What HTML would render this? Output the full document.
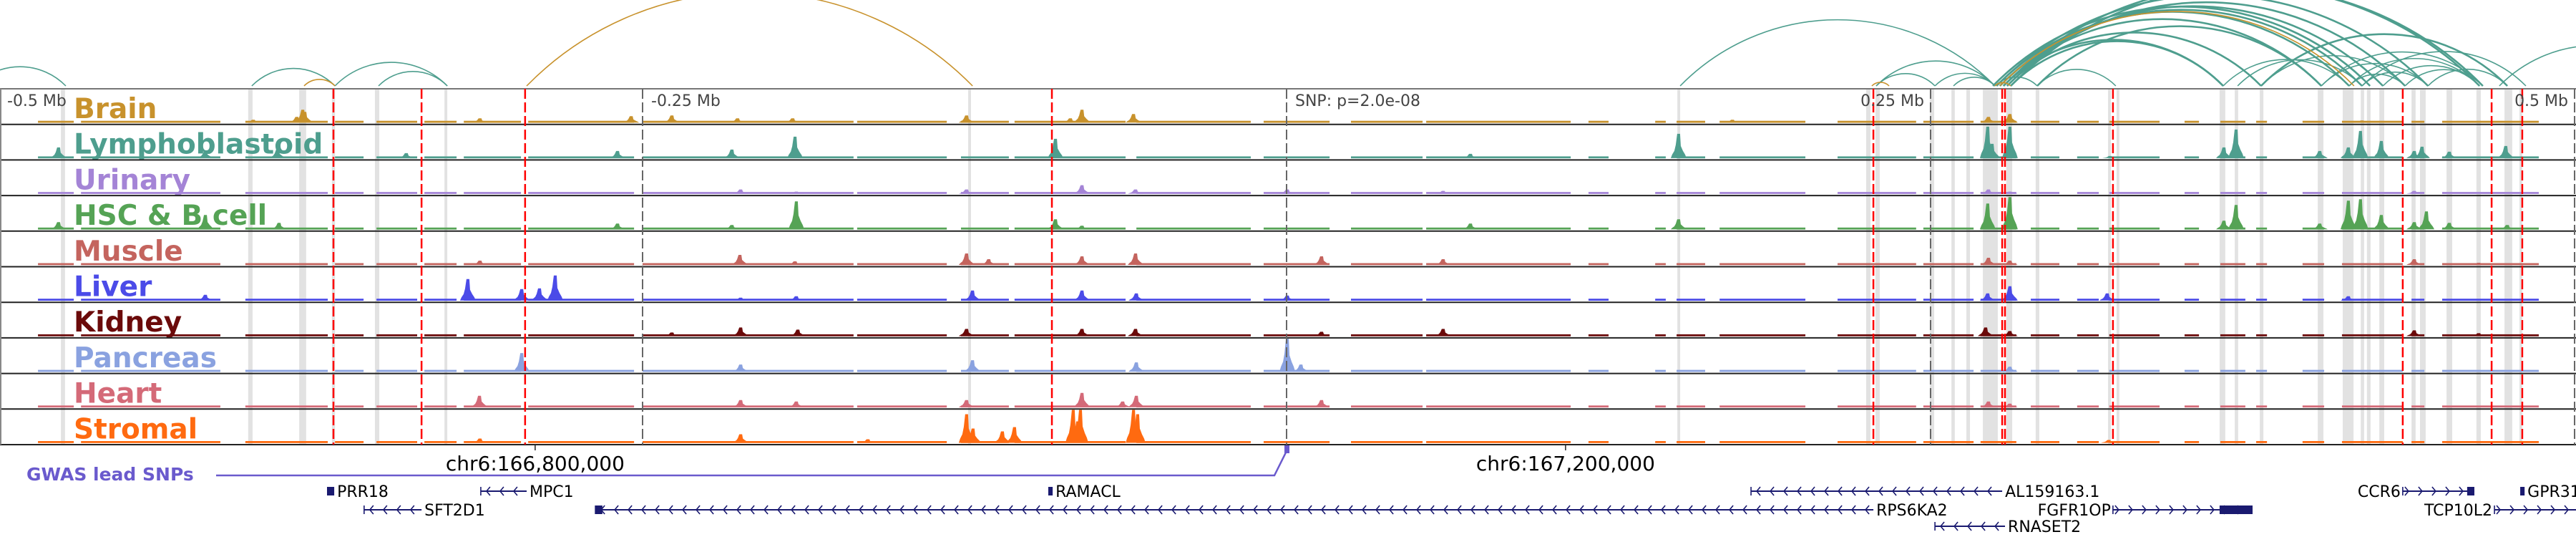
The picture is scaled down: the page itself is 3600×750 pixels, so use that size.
<!DOCTYPE html>
<html><head><meta charset="utf-8"><style>
html,body{margin:0;padding:0;background:#fff;width:3600px;height:750px;overflow:hidden}
svg{display:block;font-family:"DejaVu Sans","Liberation Sans",sans-serif}
</style></head><body>
<svg id="chart" width="3600" height="750" viewBox="0 0 3600 750" xmlns="http://www.w3.org/2000/svg">
<defs><clipPath id="arcclip"><rect x="0" y="0" width="3600" height="121"/></clipPath></defs>
</svg>
<script>
// ---- data (positions in kb relative to lead SNP) ----
const trackNames = ["Brain","Lymphoblastoid","Urinary","HSC & B cell","Muscle","Liver","Kidney","Pancreas","Heart","Stromal"];
const trackColors = ["#c8922c","#4e9e8e","#a484d6","#55a355","#c4645e","#4b4be8","#6b0a0a","#8aa2e0","#d46a78","#ff6a10"];
const brainPeaks = [[-419.7,2],[-401.1,4],[-384.2,8],[-381.9,18],[-381.1,15],[-313.1,6],[-254.4,9],[-238.6,10],[-213.1,6],[-191.7,6],[-124.2,10],[-83.9,6],[-79.4,18],[-59.4,12],[173.1,4],[272.5,8],[280.8,12],[417.5,3]];
const lymphPeaks = [[-476.7,15],[-419.7,10],[-391.7,12],[-341.7,7],[-259.7,10],[-215.3,12],[-190.8,30],[-89.7,27],[71.4,6],[152.2,34],[272.2,44],[273.9,20],[280.8,44],[319.7,3],[363.9,15],[368.6,40],[401.1,10],[412.2,15],[416.9,38],[425,24],[437.8,10],[440.8,16],[451.4,9],[473.3,17]];
const urinaryPeaks = [[-211.9,6],[-190.3,3],[-124.2,6],[-79.4,12],[-58.6,6],[0.3,6],[60.8,4],[272.5,6],[280.8,3],[437.8,4]];
const hscPeaks = [[-476.7,10],[-419.7,20],[-391.1,9],[-259.7,8],[-215.3,6],[-190.3,39],[-89.7,14],[-79.4,5],[71.4,8],[152.2,14],[272.2,36],[280.8,45],[363.9,12],[368.6,34],[401.1,8],[412.2,40],[416.9,42],[425,20],[437.8,10],[442.5,25],[451.4,9],[473.9,6]];
const musclePeaks = [[-313.1,6],[-212.2,14],[-190.8,5],[-124.2,16],[-115.6,8],[-79.4,12],[-58.6,16],[13.6,12],[60.8,8],[272.5,10],[280.8,6],[437.8,8],[462.8,3]];
const liverPeaks = [[-419.7,8],[-317.8,30],[-296.9,16],[-290,17],[-283.9,35],[-211.9,4],[-190.3,6],[-121.9,14],[-79.4,14],[-58.3,10],[0.3,7],[272.2,10],[280.8,20],[318.6,10],[412.2,6]];
const kidneyPeaks = [[-238.6,5],[-211.9,12],[-189.7,9],[-124.2,10],[-79.4,10],[-58.6,10],[13.6,6],[60.8,10],[271.4,12],[280.8,7],[437.8,8],[462.8,4]];
const pancreasPeaks = [[-296.9,26],[-211.9,10],[-121.9,16],[-58.3,13],[0.3,46],[5.6,10],[280.8,7]];
const heartPeaks = [[-313.3,16],[-211.9,10],[-190.3,8],[-124.2,10],[-79.4,20],[-63.6,8],[-58.3,16],[13.6,10],[272.5,8],[280.8,5]];
const stromalPeaks = [[-313.1,6],[-211.9,12],[-162.5,5],[-124.2,40],[-121.7,20],[-110.3,16],[-105.6,22],[-82.8,46],[-81.1,30],[-80,46],[-59.4,46],[-57.8,40],[319.2,4]];
const coverage = [[-484.7,-470.8],[-468,-413.9],[-404.2,-372.2],[-369.4,-358.3],[-353.3,-337.5],[-334.7,-322.2],[-319.4,-297.2],[-294.4,-253.3],[-250,-168.1],[-166.7,-131.9],[-126.4,-107.8],[-105.6,-62.5],[-58.3,-13.9],[-8.9,16.7],[25,52.8],[54.2,110.3],[117.2,125],[143.1,147.2],[151.4,162.5],[168.1,201.4],[213.9,244.4],[247.2,266.7],[269.4,283.3],[288.9,300],[306.9,315.3],[319.4,338.9],[348.6,354.2],[362.5,372.2],[376.4,380.6],[394.4,402.8],[409.7,433.3],[436.7,441.7],[448.6,486.1]];
const highlightBands = [[-475.8,-474.2],[-403.1,-401.4],[-383.3,-380.6],[-370.6,-369.4],[-353.9,-352.2],[-326.9,-325.8],[-123.6,-122.5],[151.7,152.8],[225,226.7],[228.6,230.3],[249.7,251.4],[258.1,259.4],[263.9,265.3],[270.3,276.1],[279.4,281.7],[290.8,292.2],[318.9,320],[322.2,323.3],[362.2,364.4],[368.1,369.4],[377.8,379.2],[400.3,402.5],[410,414.2],[417,418.3],[419.4,420.8],[424.2,426.1],[436.7,438.3],[440,442.2],[450.3,452.5],[461.9,463.6],[472.8,475.8],[478.6,479.7]];
const redLines = [-370,-335.8,-295.6,-91.1,227.8,277.8,278.9,320.8,433.3,467.8,479.7];
const distLines = [-250,0,250,500];
const distLabels = ["-0.5 Mb","-0.25 Mb","SNP: p=2.0e-08","0.25 Mb","0.5 Mb"];
const distLabelPos = [-500,-250,0,250,500];
const tealLoops = [[-509.4,-473.9],[-401.7,-369.4],[-369.4,-325.8],[-352.5,-325.8],[152.8,275],[228.9,251.7],[228.9,275],[251.7,275],[258.9,275],[275,291.4],[291.4,321.9],[275.6,412.5],[276.9,417.5],[278.3,425.6],[279.7,434.2],[275.6,443.1],[278.3,463.1],[281.1,464.4],[274.2,420.6],[278.3,363.6],[279.7,378.3],[281.1,363.6],[278.3,401.7],[291.4,401.7],[363.6,412.5],[369.2,417.5],[378.3,434.2],[401.7,443.1],[401.7,464.4],[378.3,473.9],[412.5,434.2],[417.5,443.1],[425.6,463.1],[434.2,464.4],[443.1,473.9],[417.5,481.1],[412.5,463.1],[470.8,545.6]];
const brainLoops = [[-381.4,-369.4],[-295.0,-121.9],[227.2,233.9],[275,281.1],[276.9,414.4]];
const geneNames = ["PRR18","MPC1","SFT2D1","RPS6KA2","RAMACL","AL159163.1","FGFR1OP","RNASET2","CCR6","GPR31","TCP10L2"];
const geneStart = [-372.5,-312.8,-358.1,-268.3,-92.5,180.3,320.8,251.7,433.3,478.9,468.9];
const geneEnd = [-369.7,-295.0,-335.8,227.8,-90.8,277.8,375,278.9,461.1,480.6,503.3];
const geneStrand = ["","-","-","-","","-","+","-","+","","+"];
const geneRow = [0,0,1,1,0,0,1,2,0,0,1];
const geneLabelSide = ["r","r","r","r","r","r","l","r","l","r","l"];
const geneBoxStart = [-372.5,null,null,-268.3,-92.5,null,362.2,null,458.3,478.9,null];
const geneBoxEnd = [-369.7,null,null,-265.6,-90.8,null,375,null,461.1,480.6,null];
const snpPos = [0];
const axisTicks = [-291.7,108.3];
const axisTickLabels = ["chr6:166,800,000","chr6:167,200,000"];

// ---- scales ----
const NS="http://www.w3.org/2000/svg";
const svg=document.getElementById("chart");
function X(kb){return -2+(kb+500)*3.6;}
const TOP=124, ROWH=49.7, BOTTOM=TOP+10*ROWH;
function rowTop(i){return TOP+i*ROWH;}
function Y(i,v){return rowTop(i)+ROWH-2.5-v;}
function mk(tag,attrs,parent){const e=document.createElementNS(NS,tag);for(const k in attrs)e.setAttribute(k,attrs[k]);(parent||svg).appendChild(e);return e;}

// highlight bands
const gBands=mk("g",{});


highlightBands.forEach(b=>{const r=mk("rect",{x:X(b[0]),y:TOP,width:Math.max(2,X(b[1])-X(b[0])),height:BOTTOM-TOP,fill:"#e2e2e2"},gBands);

});

// track labels
trackNames.forEach((n,i)=>{const t=mk("text",{x:103,y:rowTop(i)+41,"font-size":39,"font-weight":"bold",fill:trackColors[i]});t.textContent=n;

});

// signals
const allPeaks=[brainPeaks,lymphPeaks,urinaryPeaks,hscPeaks,musclePeaks,liverPeaks,kidneyPeaks,pancreasPeaks,heartPeaks,stromalPeaks];
allPeaks.forEach((peaks,i)=>{
  const g=mk("g",{fill:trackColors[i]});
  
  
  coverage.forEach(c=>{const r=mk("rect",{x:X(c[0]),y:Y(i,2.5),width:X(c[1])-X(c[0]),height:2.8},g);
    
    });
  peaks.forEach(p=>{const x=X(p[0]),b=Y(i,0),h=p[1];
    const pts=[[x-11,b],[x-9,b-0.15*h],[x-6,b-0.3*h],[x-4,b-0.55*h],[x-2,b-h],[x+2,b-h],[x+3,b-0.5*h],[x+6,b-0.3*h],[x+9,b-0.15*h],[x+11,b]];
    const pg=mk("polygon",{points:pts.map(q=>q.join(",")).join(" ")},g);
    
    });
});

// row borders
for(let i=1;i<=10;i++){const l=mk("line",{x1:0,x2:3600,y1:rowTop(i),y2:rowTop(i),stroke:"#222","stroke-width":2});

}
const topB=mk("line",{x1:0,x2:3600,y1:TOP,y2:TOP,stroke:"#777","stroke-width":2});


const leftB=mk("line",{x1:1,x2:1,y1:TOP,y2:BOTTOM,stroke:"#888","stroke-width":2});



// distance lines
distLines.forEach(d=>{const l=mk("line",{x1:X(d),x2:X(d),y1:TOP,y2:BOTTOM,stroke:"#666","stroke-width":2,"stroke-dasharray":"14 5"});

});
redLines.forEach(d=>{const l=mk("line",{x1:X(d),x2:X(d),y1:TOP,y2:BOTTOM,stroke:"#ff0000","stroke-width":2.5,"stroke-dasharray":"14 5"});

});

// distance labels
distLabels.forEach((s,i)=>{const p=distLabelPos[i];let x=X(p)+12,anc="start";
  if(p===-500){x=10;} if(p>0){x=X(p)-9;anc="end";}
  const t=mk("text",{x:x,y:148,"font-size":22,fill:"#444","text-anchor":anc});t.textContent=s;
  
  });

// loops
const gArc=mk("g",{"clip-path":"url(#arcclip)",fill:"none"});


function arc(l,color,w){const x1=X(l[0]),x2=X(l[1]),L=x2-x1,s=0.21*L,R=(L*L/4+s*s)/(2*s),b=120;
  const p=mk("path",{d:`M${x1},${b} A${R},${R} 0 0 1 ${x2},${b}`,stroke:color,"stroke-width":w},gArc);
  
  }
tealLoops.forEach(l=>arc(l,"#4e9e8e",(l[0]>270&&l[1]-l[0]>80)?2.6:1.6));
brainLoops.forEach(l=>arc(l,"#c8922c",1.6));

// genomic axis
axisTicks.forEach((t,i)=>{const x=X(t);
  const tk=mk("line",{x1:x,x2:x,y1:BOTTOM,y2:BOTTOM+8,stroke:"#222","stroke-width":1.5});
  
  
  const tx=mk("text",{x:x,y:657,"font-size":28,fill:"#000","text-anchor":"middle"});tx.textContent=axisTickLabels[i];
  
  });

// GWAS track
const gl=mk("text",{x:37,y:671,"font-size":25,"font-weight":"bold",fill:"#6a5acd"});gl.textContent="GWAS lead SNPs";


snpPos.forEach(s=>{const x=X(s);
  const pl=mk("polyline",{points:`302,664 ${x-17},664 ${x},630`,fill:"none",stroke:"#6a5acd","stroke-width":2.5});
  
  
  const m=mk("rect",{x:x-3,y:622,width:7,height:11,fill:"#6a5acd"});
  
  });

// genes
const rowY=[686,712,735];
geneNames.forEach((n,i)=>{const g=mk("g",{});
  
  
  const x1=X(geneStart[i]),x2=Math.min(X(geneEnd[i]),3600),y=rowY[geneRow[i]];
  if(geneStrand[i]){mk("line",{x1:x1,x2:x2,y1:y,y2:y,stroke:"#1a1a70","stroke-width":2},g);
    const dir=geneStrand[i]==="-"?-1:1;let d="";
    for(let x=x1+8;x<x2-4;x+=19){d+=`M${x-dir*5},${y-6} L${x},${y} L${x-dir*5},${y+6} `;}
    mk("path",{d:d,fill:"none",stroke:"#1a1a70","stroke-width":1.6},g);
    mk("line",{x1:x1,x2:x1,y1:y-6,y2:y+6,stroke:"#1a1a70","stroke-width":1.6},g);}
  if(geneBoxStart[i]!==null){mk("rect",{x:X(geneBoxStart[i]),y:y-6,width:Math.max(5,X(geneBoxEnd[i])-X(geneBoxStart[i])),height:12,fill:"#1a1a70"},g);}
  const left=geneLabelSide[i]==="l";
  const t=mk("text",{x:left?X(geneStart[i])-3:X(geneEnd[i])+4,y:y+8,"font-size":22,fill:"#000","text-anchor":left?"end":"start"},g);
  t.textContent=n;
  
  
});
</script>
</body></html>
